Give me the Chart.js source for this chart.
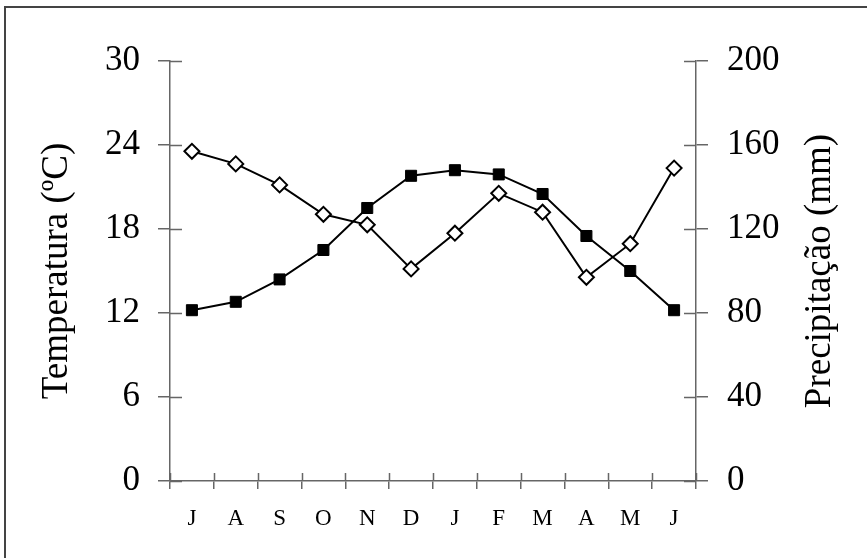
<!DOCTYPE html>
<html>
<head>
<meta charset="utf-8">
<script src="https://cdn.jsdelivr.net/npm/chart.js@4/dist/chart.umd.min.js"></script>
<style>
  html, body { margin: 0; padding: 0; background: #fff; }
  #wrap { width: 867px; height: 558px; position: relative; }
</style>
</head>
<body>
<div id="wrap"><canvas id="c" width="867" height="558"></canvas></div>
<script>
// Months, July to June
const months = ['J', 'A', 'S', 'O', 'N', 'D', 'J', 'F', 'M', 'A', 'M', 'J'];
// Mean monthly temperature (ºC)
const temperature = [12.2, 12.8, 14.4, 16.5, 19.5, 21.8, 22.2, 21.9, 20.5, 17.5, 15.0, 12.2];
// Monthly precipitation (mm)
const precipitation = [157, 151, 141, 127, 122, 101, 118, 137, 128, 97, 113, 149];
// Axis ranges and steps
const tempRange = { min: 0, max: 30, step: 6 };
const precRange = { min: 0, max: 200, step: 40 };
const tempTitle = 'Temperatura (ºC)';
const precTitle = 'Precipitação (mm)';

const SERIF = '"Liberation Serif", "Times New Roman", serif';
const AXIS = '#666';

// Outer frame and white background
const framePlugin = {
  id: 'frame',
  beforeDraw(chart) {
    const ctx = chart.ctx;
    ctx.save();
    ctx.fillStyle = '#fff';
    ctx.fillRect(0, 0, chart.width, chart.height);
    ctx.strokeStyle = '#444';
    ctx.lineWidth = 2;
    ctx.strokeRect(5, 7, chart.width + 20, chart.height + 20);
    ctx.restore();
  }
};

// Inner halves of the tick marks so that they cross the axis lines,
// and the right-hand axis title reading bottom to top
const crossTicks = {
  id: 'crossTicks',
  afterDraw(chart) {
    const ctx = chart.ctx;
    const x = chart.scales.x, yl = chart.scales.yT, yr = chart.scales.yP;
    ctx.save();
    ctx.strokeStyle = AXIS;
    ctx.lineWidth = 1.5;
    ctx.beginPath();
    yl.ticks.forEach(t => {
      const py = Math.round(yl.getPixelForValue(t.value)) + 0.5;
      ctx.moveTo(yl.right, py); ctx.lineTo(yl.right + 12, py);
    });
    yr.ticks.forEach(t => {
      const py = Math.round(yr.getPixelForValue(t.value)) + 0.5;
      ctx.moveTo(yr.left - 12, py); ctx.lineTo(yr.left, py);
    });
    for (let i = 0; i <= months.length; i++) {
      const px = Math.round(x.getPixelForValue(i - 0.5)) + 0.5;
      ctx.moveTo(px, x.top - 8); ctx.lineTo(px, x.top);
    }
    ctx.stroke();

    const cy = (yr.top + yr.bottom) / 2;
    ctx.translate(yr.right - 47, cy);
    ctx.rotate(-Math.PI / 2);
    ctx.fillStyle = '#000';
    ctx.font = '37px ' + SERIF;
    ctx.textAlign = 'center';
    ctx.textBaseline = 'middle';
    ctx.fillText(precTitle, 0, 0);
    ctx.restore();
  }
};

new Chart(document.getElementById('c'), {
  type: 'line',
  data: {
    labels: months,
    datasets: [
      {
        label: precTitle,
        data: precipitation,
        yAxisID: 'yP',
        borderColor: '#000',
        borderWidth: 2,
        pointStyle: 'rectRot',
        pointRadius: 7.5,
        pointBackgroundColor: '#fff',
        pointBorderColor: '#000',
        pointBorderWidth: 2,
        tension: 0,
        fill: false
      },
      {
        label: tempTitle,
        data: temperature,
        yAxisID: 'yT',
        borderColor: '#000',
        borderWidth: 2,
        pointStyle: 'rect',
        pointRadius: 7.8,
        pointBackgroundColor: '#000',
        pointBorderColor: '#000',
        pointBorderWidth: 1,
        tension: 0,
        fill: false
      }
    ]
  },
  options: {
    responsive: false,
    animation: false,
    devicePixelRatio: 1,
    layout: { padding: { top: 61, right: 0, bottom: 0, left: 0 } },
    plugins: { legend: { display: false }, tooltip: { enabled: false } },
    scales: {
      x: {
        type: 'category',
        offset: true,
        grid: { display: true, offset: true, drawOnChartArea: false, drawTicks: true, tickLength: 8, color: AXIS, lineWidth: 1.5 },
        border: { display: true, color: AXIS, width: 1.5 },
        ticks: { color: '#000', font: { family: SERIF, size: 23 }, padding: 16, maxRotation: 0, autoSkip: false },
        afterFit(s) { s.height = 77; }
      },
      yT: {
        position: 'left',
        min: tempRange.min, max: tempRange.max,
        grid: { display: true, drawOnChartArea: false, drawTicks: true, tickLength: 12, color: AXIS, lineWidth: 1.5 },
        border: { display: true, color: AXIS, width: 1.5 },
        ticks: { stepSize: tempRange.step, color: '#000', font: { family: SERIF, size: 35 }, padding: 18 },
        title: { display: true, text: tempTitle, color: '#000', font: { family: SERIF, size: 37 }, padding: { top: 35, bottom: 0 } },
        afterFit(s) { s.width = 170; }
      },
      yP: {
        position: 'right',
        min: precRange.min, max: precRange.max,
        grid: { display: true, drawOnChartArea: false, drawTicks: true, tickLength: 12, color: AXIS, lineWidth: 1.5 },
        border: { display: true, color: AXIS, width: 1.5 },
        ticks: { stepSize: precRange.step, color: '#000', font: { family: SERIF, size: 35 }, padding: 19 },
        title: { display: false },
        afterFit(s) { s.width = 171; }
      }
    }
  },
  plugins: [framePlugin, crossTicks]
});
</script>
</body>
</html>
